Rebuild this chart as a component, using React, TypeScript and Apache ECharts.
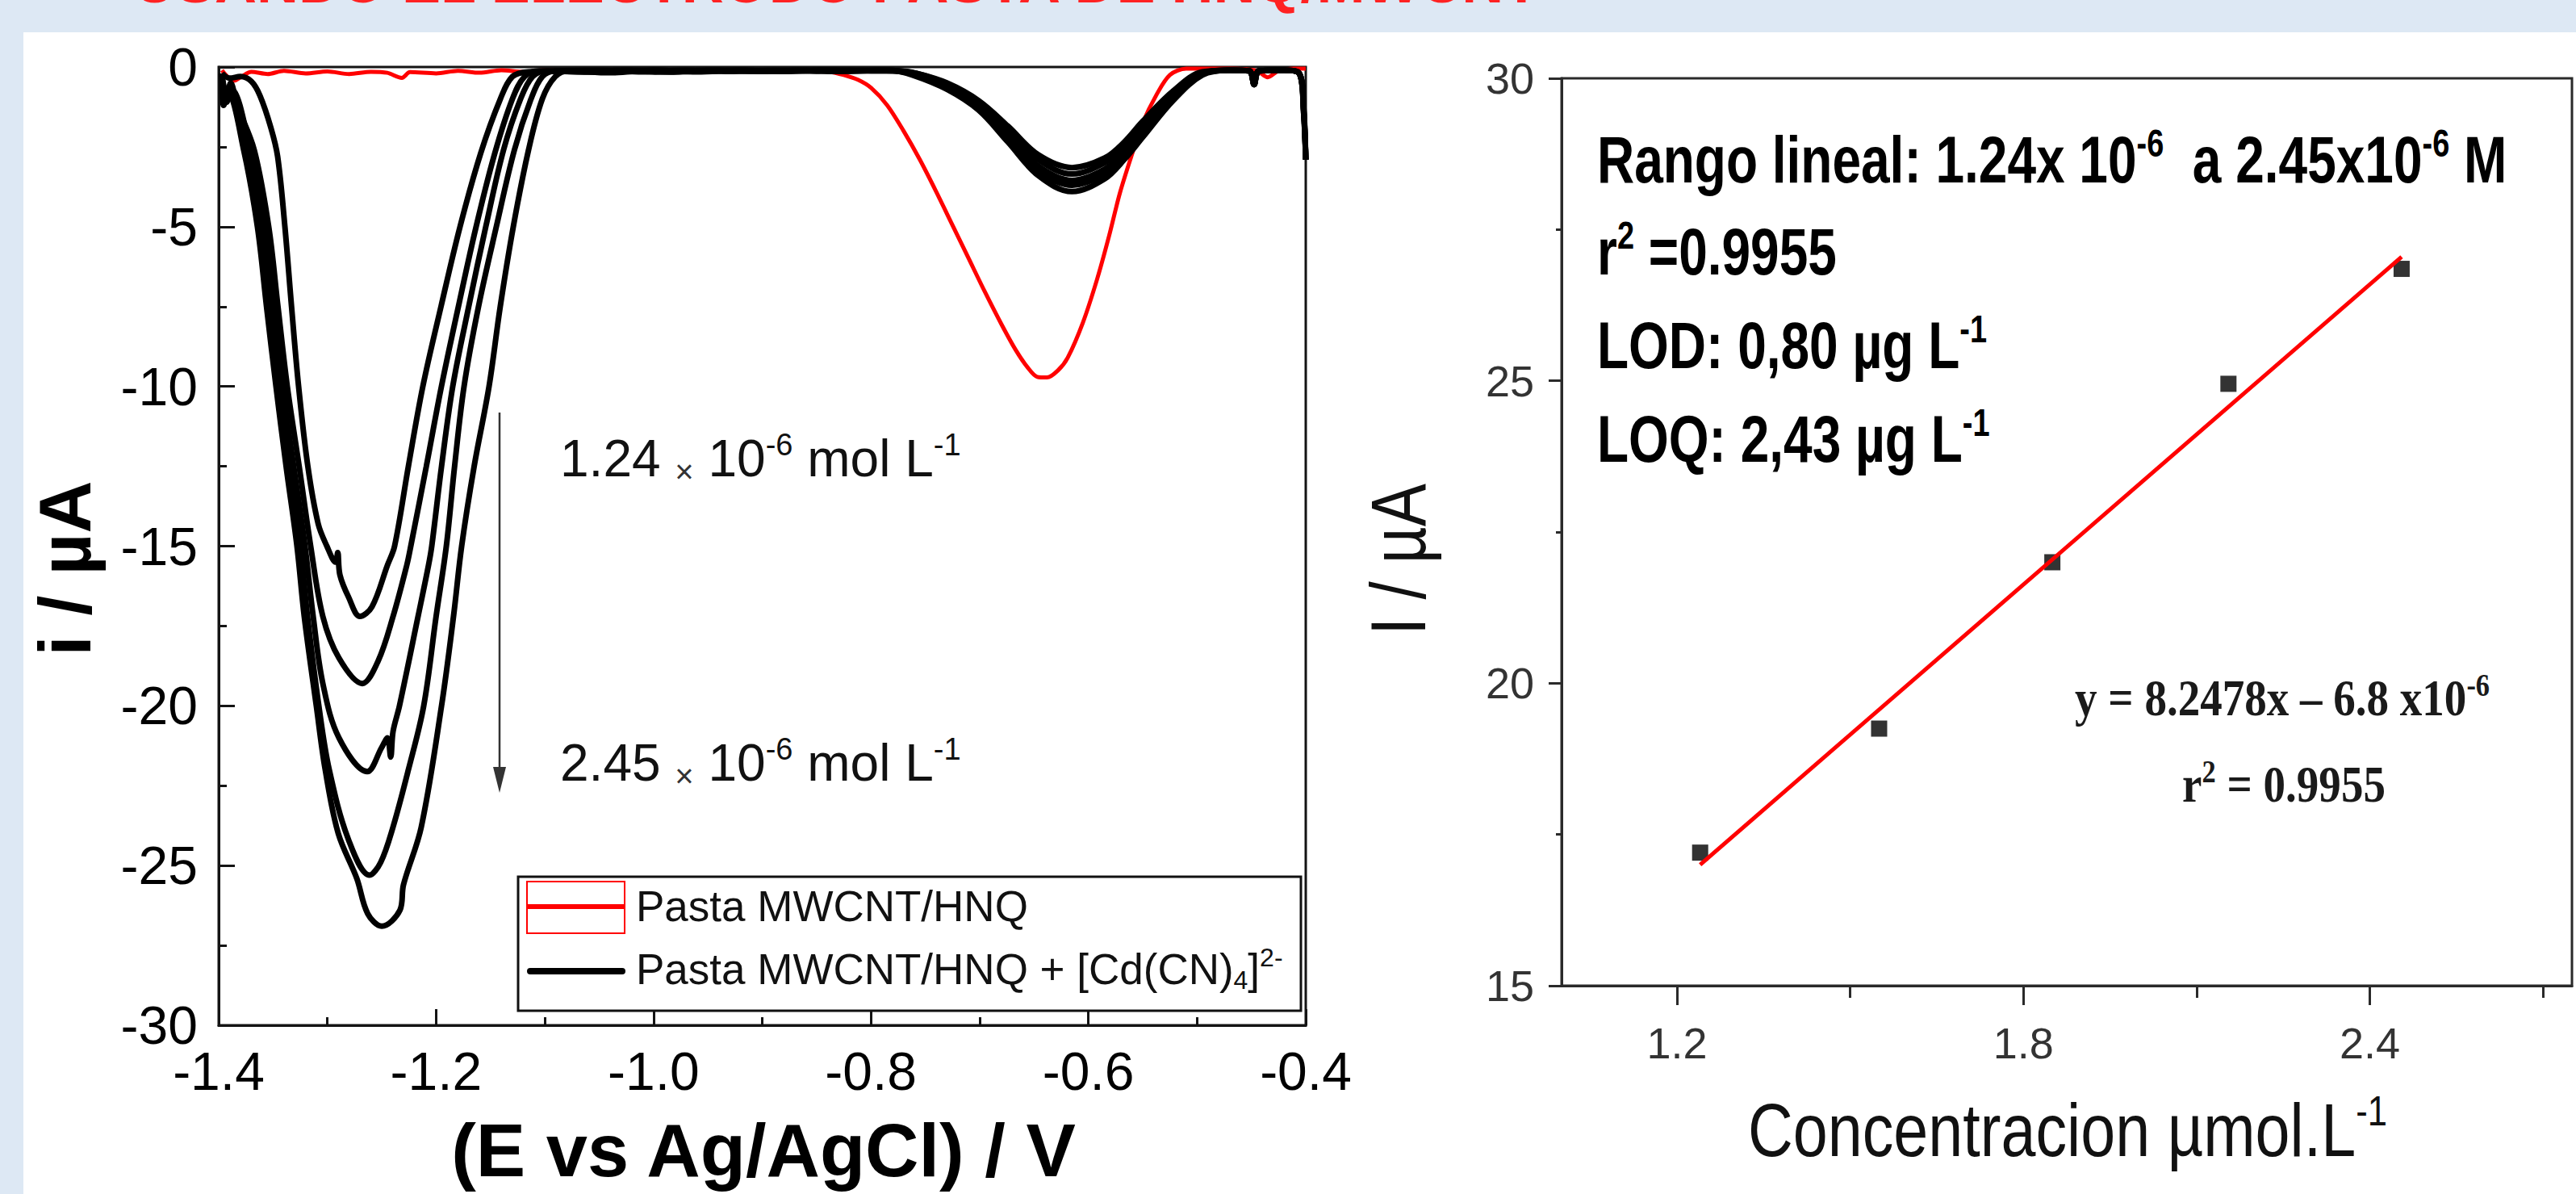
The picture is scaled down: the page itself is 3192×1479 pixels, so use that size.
import React, { useEffect, useRef } from "react";
import * as echarts from "echarts";

const CHART_W = 3192;
const CHART_H = 1479;

const fontSans = "'Liberation Sans', Arial, Helvetica, sans-serif";
const fontSerif = "'Liberation Serif', 'Times New Roman', serif";

// ---------------- Left panel: voltammograms  [E (V), i (µA)] ----------------
const redCurve: number[][] = [
  [-1.397, -0.1], [-1.392, -0.3], [-1.386, -0.43], [-1.379, -0.3], [-1.37, -0.15], [-1.355, -0.22],
  [-1.34, -0.12], [-1.32, -0.2], [-1.3, -0.14], [-1.28, -0.22], [-1.26, -0.15], [-1.245, -0.18],
  [-1.2315, -0.34], [-1.224, -0.16], [-1.2, -0.2], [-1.18, -0.12], [-1.16, -0.18], [-1.14, -0.1],
  [-1.12, -0.15], [-1.1, -0.1], [-1.05, -0.12], [-1.0, -0.1], [-0.95, -0.12], [-0.9, -0.1],
  [-0.86, -0.12], [-0.838, -0.15], [-0.825, -0.25], [-0.812, -0.4], [-0.8, -0.65], [-0.785, -1.2],
  [-0.77, -2.0], [-0.755, -2.9], [-0.74, -3.9], [-0.725, -4.95], [-0.71, -6.0], [-0.695, -7.05],
  [-0.68, -8.05], [-0.667, -8.85], [-0.656, -9.4], [-0.647, -9.7], [-0.638, -9.72], [-0.628, -9.5],
  [-0.619, -9.1], [-0.605, -8.0], [-0.592, -6.65], [-0.581, -5.3], [-0.571, -3.95], [-0.56, -2.75],
  [-0.55, -1.75], [-0.537, -0.85], [-0.525, -0.25], [-0.51, -0.05], [-0.47, -0.05], [-0.445, -0.12],
  [-0.435, -0.32], [-0.425, -0.12], [-0.41, -0.05], [-0.4, -0.05],
];

const blackCurve1: number[][] = [
  [-1.397, -0.2], [-1.39, -0.35], [-1.38, -0.3], [-1.37, -0.45], [-1.362, -0.9], [-1.352, -1.9],
  [-1.3458, -2.8], [-1.3391, -5.0], [-1.333, -7.5], [-1.3265, -10.0], [-1.318, -12.5], [-1.3085, -14.3],
  [-1.3005, -15.0], [-1.2925, -15.5], [-1.2905, -15.2], [-1.2885, -15.9], [-1.2805, -16.6], [-1.2701, -17.2],
  [-1.259, -16.9], [-1.2448, -15.6], [-1.2382, -15.0], [-1.2255, -12.5], [-1.2122, -10.0], [-1.1955, -7.5],
  [-1.178, -5.0], [-1.159, -2.7], [-1.1409, -1.0], [-1.1298, -0.3], [-1.115, -0.15],
  [-1.08, -0.12], [-1.04, -0.18], [-1.0, -0.1], [-0.96, -0.15], [-0.92, -0.1], [-0.88, -0.14],
  [-0.84, -0.1], [-0.8, -0.12], [-0.775, -0.12], [-0.758, -0.2], [-0.73, -0.5], [-0.701, -1.05],
  [-0.674, -1.85], [-0.646, -2.75], [-0.615, -3.15], [-0.585, -2.85], [-0.567, -2.35], [-0.55, -1.7],
  [-0.522, -0.75], [-0.495, -0.15], [-0.47, -0.1], [-0.452, -0.12], [-0.4475, -0.5], [-0.443, -0.12],
  [-0.42, -0.1], [-0.406, -0.2], [-0.402, -1.2], [-0.4, -2.9],
];

const blackCurve2: number[][] = [
  [-1.397, -0.25], [-1.3926, -0.9], [-1.389, -0.5], [-1.383, -1.2], [-1.3673, -2.6], [-1.354, -5.0],
  [-1.3455, -7.5], [-1.3369, -10.0], [-1.326, -12.5], [-1.3154, -15.0], [-1.3042, -17.2], [-1.2894, -18.5],
  [-1.2679, -19.3], [-1.2534, -18.6], [-1.2396, -17.2], [-1.227, -15.6], [-1.2233, -15.0], [-1.209, -12.5],
  [-1.1951, -10.0], [-1.1795, -7.5], [-1.1632, -5.0], [-1.146, -2.7], [-1.1298, -1.0], [-1.1186, -0.3],
  [-1.105, -0.12],
  [-1.07, -0.15], [-1.03, -0.1], [-0.99, -0.16], [-0.95, -0.1], [-0.91, -0.13], [-0.87, -0.1],
  [-0.83, -0.14], [-0.79, -0.1], [-0.758, -0.2], [-0.73, -0.55], [-0.701, -1.12], [-0.674, -1.95],
  [-0.646, -2.9], [-0.615, -3.35], [-0.585, -3.0], [-0.567, -2.5], [-0.55, -1.85], [-0.522, -0.85],
  [-0.495, -0.18], [-0.47, -0.1], [-0.452, -0.12], [-0.4475, -0.55], [-0.443, -0.12], [-0.42, -0.1],
  [-0.406, -0.2], [-0.402, -1.3], [-0.4, -2.9],
];

const blackCurve3: number[][] = [
  [-1.397, -0.2], [-1.3926, -1.1], [-1.388, -0.7], [-1.371, -2.6], [-1.3584, -5.0], [-1.35, -7.5],
  [-1.3414, -10.0], [-1.331, -12.5], [-1.3206, -15.0], [-1.3131, -17.2], [-1.3042, -19.3], [-1.2894, -21.0],
  [-1.2634, -22.06], [-1.25, -21.3], [-1.2448, -21.0], [-1.2418, -21.6], [-1.2396, -20.8], [-1.2337, -20.0],
  [-1.2166, -17.2], [-1.207, -15.6], [-1.204, -15.0], [-1.195, -12.5], [-1.1847, -10.0], [-1.17, -7.5],
  [-1.1543, -5.0], [-1.138, -2.6], [-1.1223, -1.0], [-1.1112, -0.3], [-1.098, -0.12],
  [-1.06, -0.16], [-1.02, -0.1], [-0.98, -0.15], [-0.94, -0.1], [-0.9, -0.14], [-0.86, -0.1],
  [-0.82, -0.13], [-0.785, -0.1], [-0.76, -0.22], [-0.73, -0.6], [-0.701, -1.2], [-0.674, -2.1],
  [-0.646, -3.1], [-0.615, -3.55], [-0.585, -3.2], [-0.567, -2.65], [-0.55, -1.95], [-0.522, -0.9],
  [-0.495, -0.2], [-0.47, -0.1], [-0.452, -0.12], [-0.4475, -0.55], [-0.443, -0.12], [-0.42, -0.1],
  [-0.406, -0.2], [-0.402, -1.3], [-0.4, -2.9],
];

const blackCurve4: number[][] = [
  [-1.397, -0.2], [-1.3941, -1.0], [-1.39, -0.8], [-1.374, -2.6], [-1.3614, -5.0], [-1.353, -7.5],
  [-1.3443, -10.0], [-1.335, -12.5], [-1.325, -15.0], [-1.3183, -17.2], [-1.3079, -20.0], [-1.2983, -22.0],
  [-1.2805, -24.2], [-1.2612, -25.3], [-1.251, -24.9], [-1.2397, -23.8], [-1.2255, -22.0], [-1.2114, -20.0],
  [-1.2, -17.2], [-1.1906, -15.0], [-1.183, -12.5], [-1.1743, -10.0], [-1.161, -7.5], [-1.1446, -5.0],
  [-1.128, -2.6], [-1.1127, -1.0], [-1.1023, -0.3], [-1.09, -0.12],
  [-1.05, -0.1], [-1.01, -0.15], [-0.97, -0.1], [-0.93, -0.14], [-0.89, -0.1], [-0.85, -0.13],
  [-0.81, -0.1], [-0.78, -0.12], [-0.76, -0.24], [-0.73, -0.65], [-0.701, -1.28], [-0.674, -2.22],
  [-0.646, -3.25], [-0.615, -3.7], [-0.585, -3.35], [-0.567, -2.78], [-0.55, -2.05], [-0.522, -0.98],
  [-0.495, -0.22], [-0.47, -0.1], [-0.452, -0.12], [-0.4475, -0.55], [-0.443, -0.12], [-0.42, -0.1],
  [-0.406, -0.2], [-0.402, -1.4], [-0.4, -2.9],
];

const blackCurve5: number[][] = [
  [-1.397, -0.2], [-1.3955, -1.2], [-1.391, -0.9], [-1.377, -2.6], [-1.3644, -5.0], [-1.356, -7.5],
  [-1.3473, -10.0], [-1.338, -12.5], [-1.328, -15.0], [-1.3213, -17.2], [-1.3102, -20.0], [-1.302, -22.0],
  [-1.29, -24.0], [-1.273, -25.4], [-1.263, -26.5], [-1.25, -26.9], [-1.2333, -26.4], [-1.23, -25.6],
  [-1.2137, -23.8], [-1.195, -20.0], [-1.184, -17.2], [-1.1765, -15.0], [-1.165, -12.5], [-1.1513, -10.0],
  [-1.141, -7.5], [-1.129, -5.0], [-1.115, -2.6], [-1.1023, -1.0], [-1.0904, -0.3], [-1.078, -0.12],
  [-1.04, -0.15], [-1.0, -0.1], [-0.96, -0.14], [-0.92, -0.1], [-0.88, -0.13], [-0.84, -0.1],
  [-0.8, -0.12], [-0.78, -0.12], [-0.762, -0.25], [-0.73, -0.7], [-0.701, -1.35], [-0.674, -2.35],
  [-0.646, -3.4], [-0.615, -3.9], [-0.585, -3.5], [-0.567, -2.9], [-0.55, -2.2], [-0.522, -1.05],
  [-0.495, -0.25], [-0.47, -0.1], [-0.452, -0.12], [-0.4475, -0.55], [-0.443, -0.12], [-0.42, -0.1],
  [-0.406, -0.2], [-0.402, -1.4], [-0.4, -2.9],
];

const blackCurves = [blackCurve1, blackCurve2, blackCurve3, blackCurve4, blackCurve5];

// ---------------- Right panel: calibration ----------------
const concentrations = [1.24, 1.55, 1.85, 2.155, 2.455]; // µmol/L
const peakCurrents = [17.2, 19.25, 22.0, 24.95, 26.85]; // µA
const fitLineX = [1.24, 2.455];
const fitLineY = [17.0, 27.05];
const rightMajorTicks = [1.2, 1.8, 2.4];
const rightMinorTicks = [1.5, 2.1, 2.7];

const legendRed = "Pasta MWCNT/HNQ";
const legendBlack = "Pasta MWCNT/HNQ + [Cd(CN){sub|4}]{sup|2-}";

function supStyle(size: number, weight: string, family: string, fill: string) {
  return { fontSize: size, fontWeight: weight, fontFamily: family, fill, verticalAlign: "top", lineHeight: size };
}
function subStyle(size: number, weight: string, family: string, fill: string) {
  return { fontSize: size, fontWeight: weight, fontFamily: family, fill, verticalAlign: "bottom", lineHeight: size };
}

function txt(
  x: number,
  y: number,
  text: string,
  o: {
    size: number;
    weight?: string;
    family?: string;
    fill?: string;
    align?: string;
    rotation?: number;
    scaleX?: number;
    supSize?: number;
    lineHeight?: number;
    extraRich?: any;
  }
) {
  const weight = o.weight || "normal";
  const family = o.family || fontSans;
  const fill = o.fill || "#000";
  const align = o.align || "left";
  const supSize = o.supSize || Math.round(o.size * 0.6);
  return {
    type: "text",
    x,
    y,
    rotation: o.rotation || 0,
    scaleX: o.scaleX || 1,
    scaleY: 1,
    z: 100,
    style: {
      text,
      fontSize: o.size,
      fontWeight: weight,
      fontFamily: family,
      fill,
      align,
      textAlign: align,
      verticalAlign: "middle",
      textVerticalAlign: "middle",
      lineHeight: o.lineHeight || Math.round(o.size * 1.12),
      rich: {
        sup: supStyle(supSize, weight, family, fill),
        sub: subStyle(supSize, weight, family, fill),
        ...(o.extraRich || {}),
      },
    },
  };
}

function buildOption() {
  const axisColorL = "#141414";
  const axisColorR = "#2a2a2a";

  const leftSeries: any[] = [
    {
      name: legendRed,
      type: "line",
      xAxisIndex: 0,
      yAxisIndex: 0,
      data: redCurve,
      showSymbol: false,
      symbol: "none",
      smooth: 0.3,
      lineStyle: { color: "#ff0000", width: 5 },
      z: 2,
    },
    ...blackCurves.map((c, i) => ({
      name: "Pasta MWCNT/HNQ + [Cd(CN)4]2- #" + (i + 1),
      type: "line",
      xAxisIndex: 0,
      yAxisIndex: 0,
      data: c,
      showSymbol: false,
      symbol: "none",
      smooth: 0.35,
      lineStyle: { color: "#000000", width: 7 },
      z: 3,
    })),
  ];

  const rightSeries: any[] = [
    {
      name: "I vs C",
      type: "scatter",
      xAxisIndex: 1,
      yAxisIndex: 1,
      data: concentrations.map((c, i) => [c, peakCurrents[i]]),
      symbol: "rect",
      symbolSize: 20,
      itemStyle: { color: "#000" },
      z: 3,
    },
    {
      name: "fit",
      type: "line",
      xAxisIndex: 1,
      yAxisIndex: 1,
      data: fitLineX.map((x, i) => [x, fitLineY[i]]),
      showSymbol: false,
      symbol: "none",
      lineStyle: { color: "#ff0000", width: 5 },
      z: 4,
    },
  ];

  const richX = { x: { fontSize: 40, fontFamily: fontSans, fill: "#333", verticalAlign: "bottom", lineHeight: 52 } };

  const graphics: any[] = [
    // page title (cut at the top edge, as in the slide)
    txt(166, -22, "USANDO EL ELECTRODO PASTA DE HNQ/MWCNT", { size: 72, weight: "bold", fill: "#ff2222" }),

    // arrow
    { type: "line", z: 100, shape: { x1: 619, y1: 511, x2: 619, y2: 958 }, style: { stroke: "#333", lineWidth: 2.5 } },
    { type: "polygon", z: 100, shape: { points: [[611, 950], [627, 950], [619, 982]] }, style: { fill: "#333" } },

    // concentration annotations
    txt(694, 568, "1.24 {x|×} 10{sup|-6} mol L{sup|-1}", { size: 64, fill: "#111", lineHeight: 72, supSize: 38, extraRich: richX }),
    txt(694, 945, "2.45 {x|×} 10{sup|-6} mol L{sup|-1}", { size: 64, fill: "#111", lineHeight: 72, supSize: 38, extraRich: richX }),

    // legend
    { type: "rect", z: 99, shape: { x: 642, y: 1086, width: 970, height: 166 }, style: { fill: "#fff", stroke: "#111", lineWidth: 3 } },
    { type: "rect", z: 100, shape: { x: 653, y: 1092, width: 121, height: 64 }, style: { fill: "none", stroke: "#ff0000", lineWidth: 2 } },
    { type: "line", z: 100, shape: { x1: 653, y1: 1123, x2: 774, y2: 1123 }, style: { stroke: "#ff0000", lineWidth: 6 } },
    { type: "line", z: 100, shape: { x1: 657, y1: 1203, x2: 771, y2: 1203 }, style: { stroke: "#000", lineWidth: 8, lineCap: "round" } },
    txt(788, 1122, legendRed, { size: 53, fill: "#111" }),
    txt(788, 1200, legendBlack, { size: 53, fill: "#111", lineHeight: 60, supSize: 32 }),

    // left axis titles
    txt(81, 704, "i / µA", { size: 90, weight: "bold", align: "center", rotation: Math.PI / 2 }),
    txt(946, 1425, "(E vs Ag/AgCl) / V", { size: 92, weight: "bold", align: "center" }),

    // right axis titles
    txt(1733, 693, "I / µA", { size: 96, align: "center", rotation: Math.PI / 2, scaleX: 0.83, fill: "#111" }),
    txt(2166, 1400, "Concentracion µmol.L{sup|-1}", { size: 92, scaleX: 0.84, fill: "#111", supSize: 52, lineHeight: 100 }),

    // right annotations
    txt(1979, 198, "Rango lineal: 1.24x 10{sup|-6}  a 2.45x10{sup|-6} M", { size: 81, weight: "bold", scaleX: 0.79, supSize: 48, lineHeight: 90 }),
    txt(1979, 312, "r{sup|2} =0.9955", { size: 81, weight: "bold", scaleX: 0.79, supSize: 48, lineHeight: 90 }),
    txt(1979, 428, "LOD: 0,80 µg L{sup|-1}", { size: 81, weight: "bold", scaleX: 0.79, supSize: 48, lineHeight: 90 }),
    txt(1979, 544, "LOQ: 2,43 µg L{sup|-1}", { size: 81, weight: "bold", scaleX: 0.79, supSize: 48, lineHeight: 90 }),

    txt(2828, 865, "y = 8.2478x – 6.8 x10{sup|-6}", { size: 64, weight: "bold", family: fontSerif, align: "center", scaleX: 0.86, fill: "#1a1a1a", supSize: 40, lineHeight: 72 }),
    txt(2830, 972, "r{sup|2} = 0.9955", { size: 64, weight: "bold", family: fontSerif, align: "center", scaleX: 0.86, fill: "#1a1a1a", supSize: 40, lineHeight: 72 }),
  ];

  return {
    animation: false,
    backgroundColor: "transparent",
    grid: [
      { left: 271, top: 83, width: 1347, height: 1187, show: true, borderColor: axisColorL, borderWidth: 3, backgroundColor: "transparent" },
      { left: 1935, top: 97, width: 1252, height: 1124, show: true, borderColor: axisColorR, borderWidth: 3, backgroundColor: "transparent" },
    ],
    xAxis: [
      {
        type: "value",
        gridIndex: 0,
        position: "bottom",
        min: -1.4,
        max: -0.4,
        interval: 0.2,
        axisLine: { show: true, onZero: false, lineStyle: { color: axisColorL, width: 3 } },
        axisTick: { show: true, inside: true, length: 20, lineStyle: { color: axisColorL, width: 3 } },
        minorTick: { show: true, splitNumber: 2, length: 10, lineStyle: { color: axisColorL, width: 3 } },
        splitLine: { show: false },
        minorSplitLine: { show: false },
        axisLabel: { fontSize: 66, color: "#000", fontFamily: fontSans, margin: 24, formatter: (v: number) => v.toFixed(1) },
      },
      {
        type: "value",
        gridIndex: 1,
        position: "bottom",
        min: 1.0,
        max: 2.75,
        axisLine: { show: true, onZero: false, lineStyle: { color: axisColorR, width: 3 } },
        axisTick: { show: true, inside: false, length: 24, customValues: rightMajorTicks, lineStyle: { color: axisColorR, width: 3 } },
        axisLabel: { customValues: rightMajorTicks, fontSize: 54, color: "#333", fontFamily: fontSans, margin: 44, formatter: (v: number) => v.toFixed(1) },
        splitLine: { show: false },
      },
      {
        type: "value",
        gridIndex: 1,
        position: "bottom",
        min: 1.0,
        max: 2.75,
        axisLine: { show: false, onZero: false },
        axisTick: { show: true, inside: false, length: 15, customValues: rightMinorTicks, lineStyle: { color: axisColorR, width: 3 } },
        axisLabel: { show: false },
        splitLine: { show: false },
      },
    ],
    yAxis: [
      {
        type: "value",
        gridIndex: 0,
        position: "left",
        min: -30,
        max: 0,
        interval: 5,
        axisLine: { show: true, onZero: false, lineStyle: { color: axisColorL, width: 3 } },
        axisTick: { show: true, inside: true, length: 20, lineStyle: { color: axisColorL, width: 3 } },
        minorTick: { show: true, splitNumber: 2, length: 10, lineStyle: { color: axisColorL, width: 3 } },
        splitLine: { show: false },
        minorSplitLine: { show: false },
        axisLabel: { fontSize: 66, color: "#000", fontFamily: fontSans, margin: 26 },
      },
      {
        type: "value",
        gridIndex: 1,
        position: "left",
        min: 15,
        max: 30,
        interval: 5,
        axisLine: { show: true, onZero: false, lineStyle: { color: axisColorR, width: 3 } },
        axisTick: { show: true, inside: false, length: 16, lineStyle: { color: axisColorR, width: 3 } },
        minorTick: { show: true, splitNumber: 2, length: 7, lineStyle: { color: axisColorR, width: 3 } },
        splitLine: { show: false },
        minorSplitLine: { show: false },
        axisLabel: { fontSize: 54, color: "#333", fontFamily: fontSans, margin: 34 },
      },
    ],
    series: [...leftSeries, ...rightSeries],
    graphic: { elements: graphics },
  };
}

export default function App() {
  const ref = useRef<HTMLDivElement>(null);
  useEffect(() => {
    if (!ref.current) return;
    const chart = echarts.init(ref.current, null, { renderer: "svg", width: CHART_W, height: CHART_H });
    chart.setOption(buildOption() as any);
    return () => {
      chart.dispose();
    };
  }, []);
  return (
    <div
      style={{
        position: "fixed",
        left: 0,
        top: 0,
        width: CHART_W,
        height: CHART_H,
        background: "#dde8f4",
        overflow: "hidden",
      }}
    >
      <div style={{ position: "absolute", left: 29, top: 40, width: CHART_W - 29, height: CHART_H - 40, background: "#ffffff" }} />
      <div ref={ref} style={{ position: "absolute", left: 0, top: 0, width: CHART_W, height: CHART_H }} />
    </div>
  );
}
